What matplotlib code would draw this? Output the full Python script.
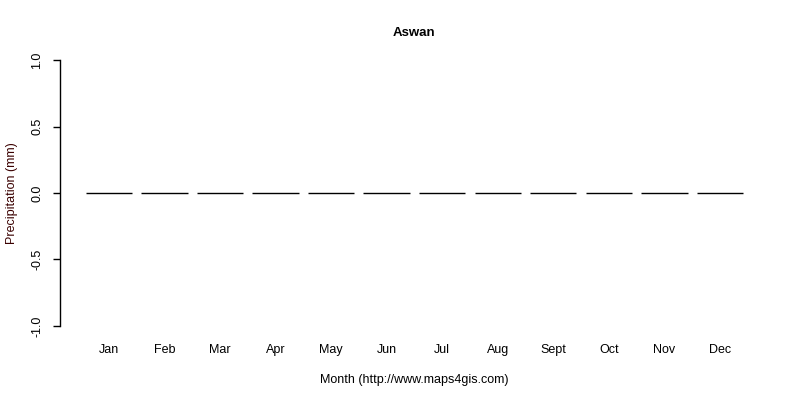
import matplotlib
matplotlib.use("Agg")
import matplotlib.pyplot as plt

plt.rcParams['font.family'] = ['Liberation Sans', 'DejaVu Sans']

months = ["Jan", "Feb", "Mar", "Apr", "May", "Jun", "Jul", "Aug", "Sept", "Oct", "Nov", "Dec"]
precip = [0, 0, 0, 0, 0, 0, 0, 0, 0, 0, 0, 0]
yticks = [-1.0, -0.5, 0.0, 0.5, 1.0]

fig = plt.figure(figsize=(8, 4), dpi=100)
ax = fig.add_axes([0.075, 0.1585, 0.886, 0.718])

# R barplot layout: width 1, space 0.2
xs = [0.7 + 1.2 * i for i in range(len(months))]
ax.bar(xs, precip, width=1.0, color="#d3d3d3", edgecolor="black", linewidth=1.0)

ax.set_xlim(-0.354, 14.954)
ax.set_ylim(-1.08, 1.08)

for s in ["top", "right", "bottom"]:
    ax.spines[s].set_visible(False)
ax.spines["left"].set_bounds(-1, 1)
ax.spines["left"].set_linewidth(1.0)

ax.set_yticks(yticks)
ax.set_yticklabels([f"{v:.1f}" for v in yticks], rotation=90, va="center", fontsize=9)
ax.tick_params(axis="y", length=5, width=1.0, pad=7)

ax.set_xticks(xs)
ax.set_xticklabels(months, fontsize=9)
ax.tick_params(axis="x", length=0, pad=5)

ax.set_title("Aswan", fontsize=9.5, fontweight="bold", pad=10)
ax.set_xlabel("Month (http://www.maps4gis.com)", fontsize=9, labelpad=13.5)
ax.set_ylabel("Precipitation (mm)", fontsize=9, color="#3a0000", labelpad=9.5)

fig.savefig("out.png", dpi=100)
